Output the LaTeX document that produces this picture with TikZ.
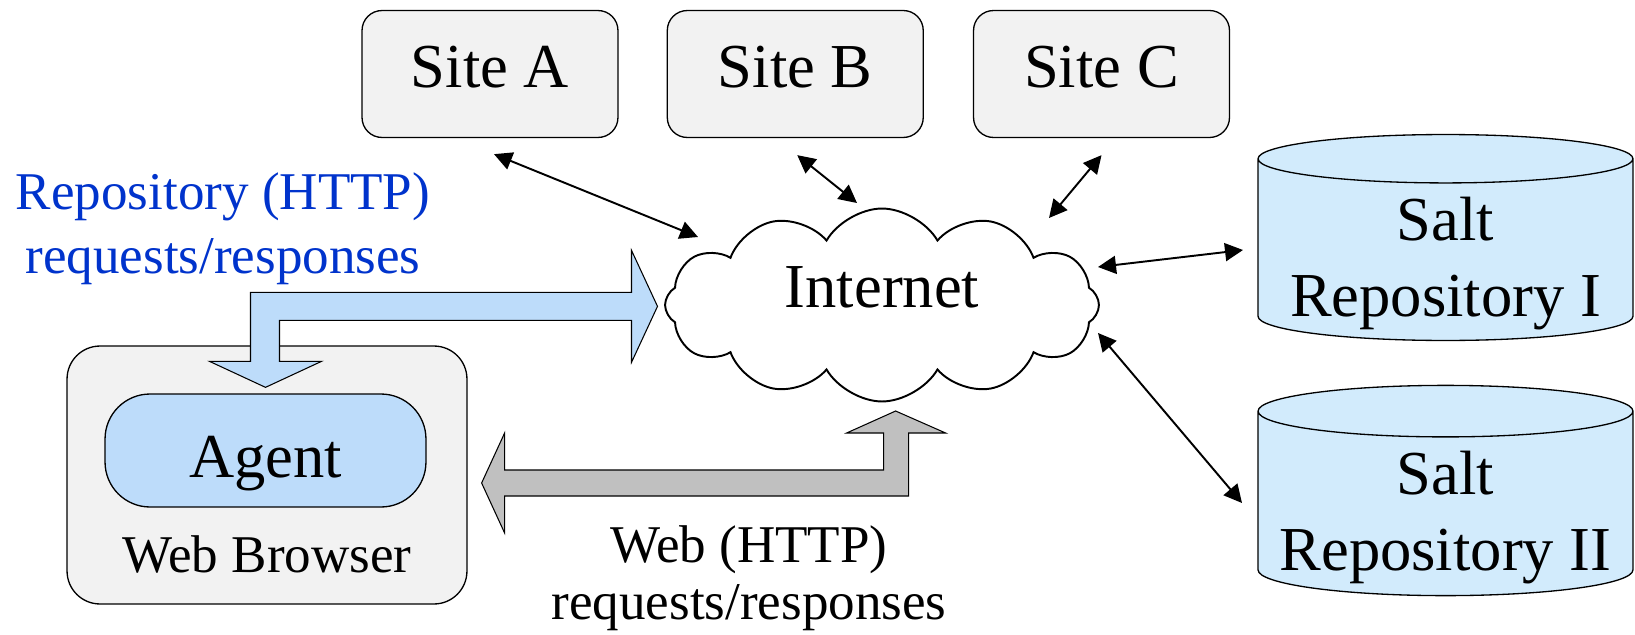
\documentclass[tikz,border=0pt]{standalone}
\usepackage{fontspec}
\setmainfont{Liberation Serif}
\usepackage{tikz}
\usetikzlibrary{positioning, shapes.geometric, shapes.symbols, arrows.meta}

\definecolor{boxgray}{RGB}{242,242,242}
\definecolor{agentblue}{RGB}{189,220,250}
\definecolor{repoblue}{RGB}{210,235,252}
\definecolor{pipegray}{RGB}{192,192,192}
\definecolor{textblue}{RGB}{0,51,204}

\newcommand{\bigfont}{\fontsize{35.6}{43.3}\selectfont}
\newcommand{\bluefont}{\fontsize{30.2}{36.4}\selectfont}
\newcommand{\webfont}{\fontsize{30.2}{31.9}\selectfont}

\begin{document}
\begin{tikzpicture}[x=0.02cm, y=-0.02cm]
  \tikzstyle{site}=[rectangle, rounded corners=0.4cm, draw, line width=0.75pt, fill=boxgray,
    minimum width=5.12cm, minimum height=2.54cm, font=\bigfont, text height=0.544cm, text depth=0pt]
  \tikzstyle{repo}=[cylinder, shape border rotate=90, aspect=0.15, draw, line width=0.75pt, fill=repoblue,
    minimum width=7.5cm, minimum height=4.1cm, align=center, font=\bigfont, text height=2.54cm, text depth=0pt,
    anchor=shape center]
  \tikzstyle{link}=[{Triangle[length=0.36cm, width=0.36cm]}-{Triangle[length=0.36cm, width=0.36cm]}, line width=1.1pt]
  \tikzstyle{pipe}=[draw, line width=0.6pt, line join=miter]
  \useasboundingbox (0,0) rectangle (1635,635);

  % sites
  \node (siteA) at (490,74) [site] {Site A};
  \node (siteB) [site, right=0.96cm of siteA] {Site B};
  \node (siteC) [site, right=0.98cm of siteB] {Site C};

  % internet
  \node (inet) at (882,305) [cloud, cloud puffs=12, cloud puff arc=120, aspect=2.2, draw, line width=1.1pt, fill=white,
    minimum width=8.68cm, minimum height=3.86cm, font=\bigfont, text height=0.1cm, text depth=0pt] {Internet};

  % repositories
  \node (repoI) at (1445.5,237.5) [repo] {Salt\\Repository I};
  \node (repoII) at (1445.5,490.5) [repo] {Salt\\Repository II};

  % browser with agent
  \node (browser) at (267,475) [rectangle, rounded corners=0.66cm, draw, line width=0.75pt, fill=boxgray,
    minimum width=8cm, minimum height=5.16cm, font=\bluefont, text height=3.92cm, text depth=0pt] {Web Browser};
  \node (agent) at (265.5,450.5) [rectangle, rounded corners=0.9cm, draw, line width=0.75pt, fill=agentblue,
    minimum width=6.42cm, minimum height=2.26cm, font=\bigfont, text height=1.1cm, text depth=0pt] {Agent};

  % labels
  \node (repolabel) at (223,273) [anchor=base, align=center, text=textblue, font=\bluefont]
    {Repository (HTTP)\\requests/responses};
  \node (weblabel) at (749,619) [anchor=base, align=center, font=\webfont]
    {Web (HTTP)\\requests/responses};

  % repository traffic
  \draw[pipe, fill=agentblue] ([shift={(0,-6)}]agent.north) -- ++(56,-26) -- ++(-42,0) -- ++(0,-41)
    -- ++(352,0) -- ++(0,42) -- ++(26,-56) -- ++(-26,-56) -- ++(0,42) -- ++(-381,0) -- ++(0,69)
    -- ++(-41,0) -- cycle;

  % web traffic
  \draw[pipe, fill=pipegray] ([shift={(14,8)}]browser.east) -- ++(23,-50) -- ++(0,37) -- ++(379,0)
    -- ++(0,-37) -- ++(-37,0) -- ++(49,-22) -- ++(50,22) -- ++(-37,0) -- ++(0,63) -- ++(-404,0)
    -- ++(0,37) -- cycle;

  % links to the internet
  \coordinate (inA) at (698,237);
  \coordinate (inB) at (857,203);
  \coordinate (inC) at (1049,218);
  \coordinate (inR1) at (1098,267);
  \coordinate (inR2) at (1098,333);
  \draw[link] ([shift={(4,16)}]siteA.south) -- (inA);
  \draw[link] ([shift={(2,17)}]siteB.south) -- (inB);
  \draw[link] ([shift={(0,17)}]siteC.south) -- (inC);
  \draw[link] (inR1) -- ([shift={(-202.5,12.5)}]repoI.shape center);
  \draw[link] (inR2) -- ([shift={(-203.5,12.5)}]repoII.shape center);
\end{tikzpicture}
\end{document}
